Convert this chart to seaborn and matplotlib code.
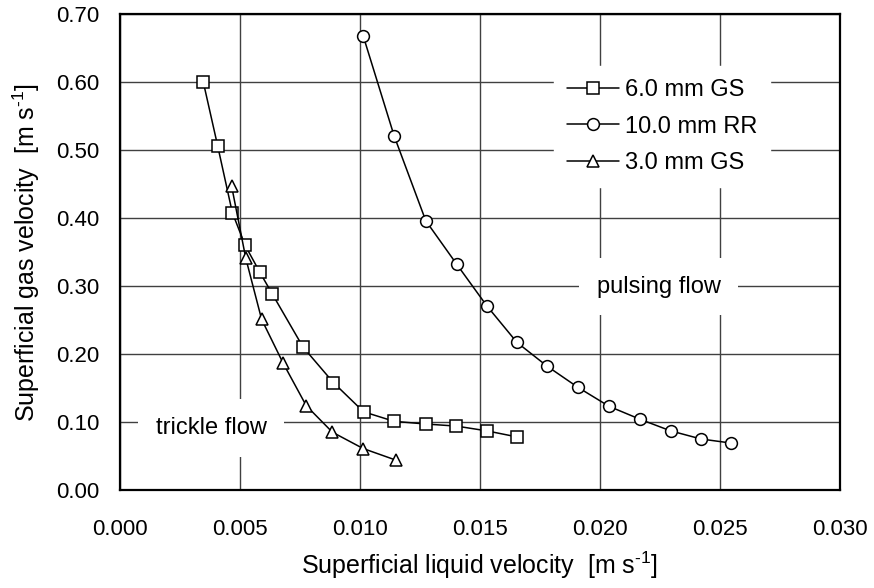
import matplotlib
matplotlib.use("Agg")
import matplotlib.pyplot as plt
import seaborn as sns
import numpy as np
import pandas as pd

# ---- data ----
gs6_x = [0.00347, 0.00407, 0.00468, 0.00521, 0.00583, 0.00635, 0.00763, 0.00889,
         0.01015, 0.01142, 0.01275, 0.01401, 0.01528, 0.01655]
gs6_y = [0.600, 0.506, 0.408, 0.360, 0.320, 0.288, 0.210, 0.158,
         0.115, 0.101, 0.097, 0.094, 0.087, 0.078]

rr10_x = [0.01014, 0.01142, 0.01274, 0.01403, 0.01528, 0.01654, 0.01780, 0.01908,
          0.02038, 0.02167, 0.02294, 0.02421, 0.02547]
rr10_y = [0.667, 0.521, 0.396, 0.332, 0.271, 0.217, 0.182, 0.151,
          0.123, 0.104, 0.087, 0.075, 0.069]

gs3_x = [0.00465, 0.00524, 0.00590, 0.00679, 0.00776, 0.00885, 0.01013, 0.01149]
gs3_y = [0.447, 0.341, 0.251, 0.187, 0.124, 0.085, 0.061, 0.044]

series_labels = ["6.0 mm GS", "10.0 mm RR", "3.0 mm GS"]
series_markers = ["s", "o", "^"]

x_ticks = [0.000, 0.005, 0.010, 0.015, 0.020, 0.025, 0.030]
y_ticks = [0.00, 0.10, 0.20, 0.30, 0.40, 0.50, 0.60, 0.70]

xlabel = r"Superficial liquid velocity  [m s$^{\text{-}1}$]"
ylabel = r"Superficial gas velocity  [m s$^{\text{-}1}$]"

# ---- style ----
sns.set_style("white")
plt.rcParams["font.family"] = ["Liberation Sans", "DejaVu Sans"]
plt.rcParams["mathtext.fontset"] = "custom"
plt.rcParams["mathtext.rm"] = "Liberation Sans"
plt.rcParams["mathtext.it"] = "Liberation Sans:italic"
plt.rcParams["mathtext.bf"] = "Liberation Sans:bold"
plt.rcParams["text.color"] = "black"
plt.rcParams["axes.labelcolor"] = "black"
plt.rcParams["xtick.color"] = "black"
plt.rcParams["ytick.color"] = "black"

fig = plt.figure(figsize=(8.74, 5.88), dpi=100)
ax = fig.add_axes([120 / 874, 1 - 490 / 588, 720 / 874, 476 / 588])

dfs = [
    pd.DataFrame({"x": gs6_x, "y": gs6_y}),
    pd.DataFrame({"x": rr10_x, "y": rr10_y}),
    pd.DataFrame({"x": gs3_x, "y": gs3_y}),
]
for df, lab, mk in zip(dfs, series_labels, series_markers):
    sns.lineplot(data=df, x="x", y="y", sort=False, ax=ax, color="black",
                 linewidth=1.1, marker=mk, markersize=8.5,
                 markerfacecolor="white", markeredgecolor="black",
                 markeredgewidth=1.1, label=lab, zorder=5)

ax.set_xlim(0, 0.030)
ax.set_ylim(0, 0.70)
ax.set_xticks(x_ticks)
ax.set_yticks(y_ticks)
ax.set_xticklabels([f"{v:.3f}" for v in x_ticks])
ax.set_yticklabels([f"{v:.2f}" for v in y_ticks])
ax.tick_params(axis="both", length=0, labelsize=16, colors="black")
ax.tick_params(axis="x", pad=21)
ax.tick_params(axis="y", pad=15)

ax.grid(True, color="#404040", linewidth=1.0)
ax.set_axisbelow(True)
for sp in ax.spines.values():
    sp.set_visible(True)
    sp.set_color("black")
    sp.set_linewidth(1.6)

ax.set_xlabel(xlabel, fontsize=18, labelpad=7, color="black")
ax.set_ylabel(ylabel, fontsize=18, labelpad=10, color="black")

leg = ax.legend(loc="upper left", bbox_to_anchor=((554 - 120) / 720, (490 - 66) / 476),
                frameon=True, fontsize=17, handlelength=2.2, handletextpad=0.25,
                labelspacing=0.62, borderpad=0.55, borderaxespad=0.0, fancybox=False)
leg.get_frame().set_facecolor("white")
leg.get_frame().set_edgecolor("white")
leg.get_frame().set_alpha(1.0)
for t in leg.get_texts():
    t.set_color("black")

ax.text(0.00379, 0.091, "trickle flow", fontsize=17, ha="center", va="center",
        zorder=4, color="black",
        bbox=dict(boxstyle="square,pad=0.75", fc="white", ec="none"))
ax.text(0.02245, 0.299, "pulsing flow", fontsize=17, ha="center", va="center",
        zorder=4, color="black",
        bbox=dict(boxstyle="square,pad=0.75", fc="white", ec="none"))

fig.savefig("out.png", dpi=100)
